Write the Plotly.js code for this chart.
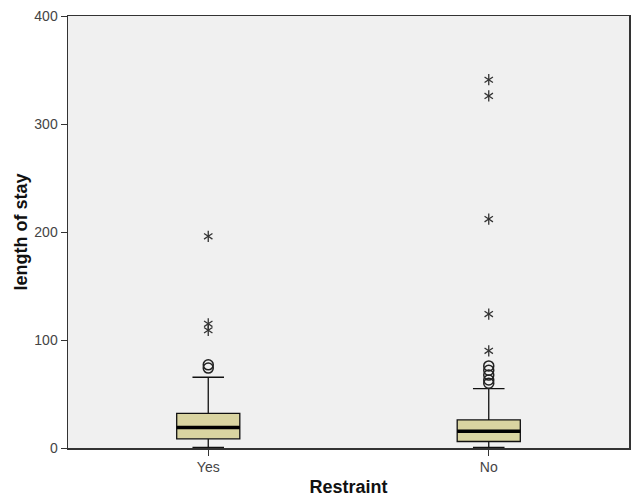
<!DOCTYPE html>
<html><head><meta charset="utf-8">
<script src="https://cdn.plot.ly/plotly-3.0.1.min.js"></script>
<style>body{margin:0;padding:0;background:#fff}#chart{width:633px;height:498px}</style>
</head><body><div id="chart"></div>
<script>
const categories = ['Yes', 'No'];
const q1 = [8.5, 6];
const median = [19, 15.5];
const q3 = [32, 26];
const lowerWhisker = [0.5, 0.5];
const upperWhisker = [65.5, 55];
const outlierYes = [77, 74];
const outlierNo = [76, 72, 67.5, 63, 60];
const extremeYes = [196, 115, 109];
const extremeNo = [341, 326, 212, 124, 90];
const yTicks = [0, 100, 200, 300, 400];

const boxW = 0.225;
const traces = [];
traces.push({
  type: 'box', x: categories, q1: q1, median: median, q3: q3,
  lowerfence: lowerWhisker, upperfence: upperWhisker,
  width: boxW, whiskerwidth: 0.5,
  fillcolor: '#d9d4a1', line: {color: '#111', width: 1.3},
  boxpoints: false, hoverinfo: 'skip', showlegend: false
});
// thick median line
traces.push({
  type: 'box', x: categories, q1: median, median: median, q3: median,
  lowerfence: median, upperfence: median,
  width: boxW, whiskerwidth: 0,
  fillcolor: 'rgba(0,0,0,0)', line: {color: '#000', width: 3.5},
  boxpoints: false, hoverinfo: 'skip', showlegend: false
});
function pts(cat, arr) { return {x: arr.map(() => cat), y: arr}; }
const circ = {symbol: 'circle-open', size: 10, color: '#222', line: {width: 1.5, color: '#222'}};
[['Yes', outlierYes], ['No', outlierNo]].forEach(([c, a]) => {
  const p = pts(c, a);
  traces.push({type: 'scatter', mode: 'markers', x: p.x, y: p.y, marker: circ, showlegend: false, hoverinfo: 'skip'});
});
['y-up-open', 'y-down-open'].forEach(sym => {
  [['Yes', extremeYes], ['No', extremeNo]].forEach(([c, a]) => {
    const p = pts(c, a);
    traces.push({type: 'scatter', mode: 'markers', x: p.x, y: p.y,
      marker: {symbol: sym, size: 7, color: '#333', line: {width: 1.3, color: '#333'}},
      showlegend: false, hoverinfo: 'skip'});
  });
});

const layout = {
  width: 633, height: 498,
  margin: {l: 68, r: 4, t: 16, b: 50},
  paper_bgcolor: '#fff', plot_bgcolor: '#f0f0f0',
  boxmode: 'overlay',
  font: {family: 'Liberation Sans, Arial, sans-serif', color: '#333', size: 14},
  xaxis: {
    type: 'category', range: [-0.5, 1.5], categoryorder: 'array', categoryarray: categories,
    showline: true, linecolor: '#333', linewidth: 1.5, mirror: true,
    ticks: 'outside', ticklen: 6, tickcolor: '#333', tickwidth: 1,
    showgrid: false, zeroline: false,
    tickfont: {size: 14, color: '#444'},
    title: {text: '<b>Restraint</b>', font: {size: 18, color: '#111'}, standoff: 6}
  },
  yaxis: {
    range: [0, 400], tickvals: yTicks, ticktext: yTicks.map(String),
    showline: true, linecolor: '#333', linewidth: 1.5, mirror: true,
    ticks: 'outside', ticklen: 6, tickcolor: '#333', tickwidth: 1,
    showgrid: false, zeroline: false,
    tickfont: {size: 14, color: '#444'},
    title: {text: '<b>length of stay</b>', font: {size: 18, color: '#111'}, standoff: 2}
  }
};
Plotly.newPlot('chart', traces, layout, {displayModeBar: false, staticPlot: true});
</script></body></html>
